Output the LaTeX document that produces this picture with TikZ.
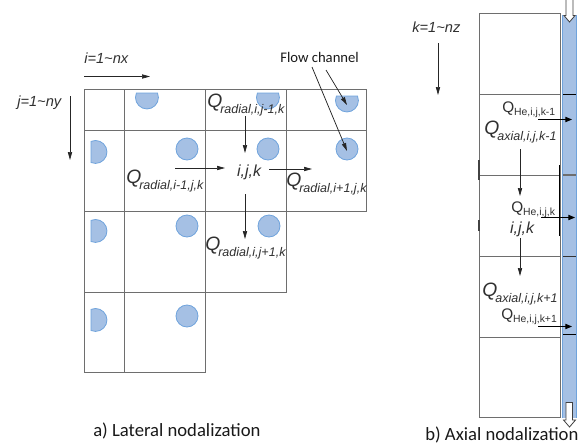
\documentclass[tikz,border=0pt]{standalone}
\usepackage{fontspec}
\setmainfont{Carlito}
\newfontfamily\arialf{Liberation Sans}
\usetikzlibrary{arrows.meta}
\definecolor{gridc}{HTML}{6E6E6E}
\definecolor{chanfill}{HTML}{A5C0E4}
\definecolor{chanedge}{HTML}{6FA3DC}
\definecolor{txtc}{HTML}{303030}
\tikzset{
  x=0.75pt,y=-0.75pt,
  cell/.style={draw=gridc,line width=0.75pt},
  hole/.style={fill=chanfill,draw=chanedge,line width=0.6pt},
  flow/.style={draw=black!85,line width=0.55pt,-{Triangle[length=6pt,width=3.2pt]}},
  strongflow/.style={draw=black,line width=0.7pt,-{Triangle[length=5pt,width=4pt]}},
  openarrow/.style={draw=black!75,fill=white,line width=0.6pt},
  caption/.style={inner sep=0pt,font=\fontsize{14pt}{16pt}\selectfont,text=black!90},
  qlab/.style={inner sep=0pt,anchor=base west,text=txtc,font=\arialf\itshape\fontsize{14.5pt}{16pt}\selectfont},
  helab/.style={inner sep=0pt,anchor=base west,text=txtc,font=\arialf\fontsize{11.5pt}{13pt}\selectfont},
  small/.style={inner sep=0pt,text=txtc,font=\arialf\itshape\fontsize{11pt}{13pt}\selectfont},
  ijk/.style={inner sep=0pt,text=txtc,font=\arialf\itshape\fontsize{12pt}{14pt}\selectfont},
  note/.style={inner sep=0pt,font=\fontsize{11pt}{13pt}\selectfont,text=black!90}
}
\newcommand{\QR}[1]{Q\kern-1.5pt\raisebox{-4.5pt}{\fontsize{9.4pt}{10pt}\selectfont #1}}
\newcommand{\QH}[1]{Q\raisebox{-2.6pt}{\fontsize{7.8pt}{9pt}\selectfont #1}}
\begin{document}
\begin{tikzpicture}
\useasboundingbox (0,0) rectangle (586,447);
% lateral holes
\foreach \px/\py in {187/149,268/149,347/149,187/226,269/226,187/316}
  \draw[hole] (\px,\py) circle[radius=11];
\foreach \px/\py in {147/93,268/93,347/96}
  \draw[hole] (\px-10.6,\py) arc[start angle=157,end angle=383,radius=8.6pt] -- cycle;
\foreach \py in {152,231,320}
  \draw[hole] (91,\py-10.6) arc[start angle=113,end angle=-113,radius=8.6pt] -- cycle;
% lateral grid
\draw[cell] (84,89) -- (366,89) -- (366,211) -- (286,211) -- (286,292) -- (205,292) -- (205,372) -- (84,372) -- cycle;
\draw[cell] (84,130) -- (366,130);
\draw[cell] (84,211) -- (286,211);
\draw[cell] (84,292) -- (205,292);
\draw[cell] (124,89) -- (124,372);
\draw[cell] (205,89) -- (205,292);
\draw[cell] (286,89) -- (286,211);
% lateral labels
\node[small,anchor=west] (ilab) at (84,58.5) {i=1\textasciitilde nx};
\coordinate (ia) at (84,76.5); \coordinate (ib) at (150,76.5);
\draw[flow] (ia) -- (ib);
\node[small,anchor=west] (jlab) at (17,103) {j=1\textasciitilde ny};
\coordinate (ja) at (70,96); \coordinate (jb) at (70,160);
\draw[flow] (ja) -- (jb);
\node[note,anchor=west] (fc) at (280,57.5) {Flow channel};
\coordinate (f1) at (326,70); \coordinate (f2) at (312,67);
\coordinate (t1) at (347,105); \coordinate (t2) at (347,151);
\draw[flow] (f1) -- (t1);
\draw[flow] (f2) -- (t2);
\node[ijk] (cen) at (249,172) {i,j,k};
\node[qlab] (q1) at (207,107) {\QR{radial,i,j-1,k}};
\node[qlab] (q2) at (126,183) {\QR{radial,i-1,j,k}};
\node[qlab] (q3) at (286,186) {\QR{radial,i+1,j,k}};
\node[qlab] (q4) at (205,250) {\QR{radial,i,j+1,k}};
\coordinate (a1) at (245,116); \coordinate (a2) at (245,153);
\draw[flow] (a1) -- (a2);
\coordinate (b1) at (175,168); \coordinate (b2) at (225,168);
\draw[flow] (b1) -- (b2);
\coordinate (c1) at (269,169); \coordinate (c2) at (312,169);
\draw[flow] (c1) -- (c2);
\coordinate (d1) at (245,194); \coordinate (d2) at (245,239);
\draw[flow] (d1) -- (d2);
\node[caption,anchor=west] (capa) at (93,431) {a) Lateral nodalization};
% axial
\fill[chanfill] (562,15) rectangle (577,418);
\draw[chanedge,line width=0.8pt] (562.3,15) -- (562.3,418) (576.7,15) -- (576.7,418);
\draw[cell] (479,13) rectangle (560,417);
\foreach \py in {94,175,256,337} \draw[cell] (479,\py) -- (560,\py);
\draw[black,line width=0.6pt] (563,94.3) -- (576,94.3);
\draw[gridc,line width=0.8pt] (563,175) -- (576,175);
\draw[black!80,line width=0.6pt] (563,256) -- (576,256);
\draw[black,line width=0.6pt] (563,334.5) -- (576,334.5);
\draw[black,line width=0.7pt] (559.5,165) -- (559.5,236);
\draw[gridc!60!black,line width=1.2pt] (479,160) -- (479,180) (479,220) -- (479,231);
\node[small,anchor=west] (klab) at (412,27) {k=1\textasciitilde nz};
\coordinate (k1) at (438,43); \coordinate (k2) at (438,95);
\draw[flow] (k1) -- (k2);
\node[helab] (h1) at (502,112) {\QH{He,i,j,k-1}};
\node[qlab] (q5) at (484,134) {\QR{axial,i,j,k-1}};
\node[helab] (h2) at (511,212) {\QH{He,i,j,k}};
\node[ijk] (cen2) at (522,229) {i,j,k};
\node[qlab] (q6) at (482,296) {\QR{axial,i,j,k+1}};
\node[helab] (h3) at (501,319) {\QH{He,i,j,k+1}};
\coordinate (l1) at (520,149); \coordinate (l2) at (520,196);
\draw[flow] (l1) -- (l2);
\coordinate (l3) at (520,238); \coordinate (l4) at (520,276);
\draw[flow] (l3) -- (l4);
\coordinate (m1) at (538,119.5); \coordinate (m2) at (572,119.5);
\draw[strongflow] (m1) -- (m2);
\coordinate (m3) at (541,217.5); \coordinate (m4) at (575,217.5);
\draw[strongflow] (m3) -- (m4);
\coordinate (m5) at (538,326.5); \coordinate (m6) at (572,326.5);
\draw[strongflow] (m5) -- (m6);
\draw[openarrow] (566,0) -- (566,15.5) -- (564,15.5) -- (569.5,22) -- (575,15.5) -- (573,15.5) -- (573,0);
\draw[openarrow] (566,402.5) -- (566,420) -- (563.5,420) -- (569.5,427) -- (575.5,420) -- (572.5,420) -- (572.5,402.5) -- cycle;
\node[caption,anchor=west] (capb) at (425,435) {b) Axial nodalization};
\end{tikzpicture}
\end{document}
